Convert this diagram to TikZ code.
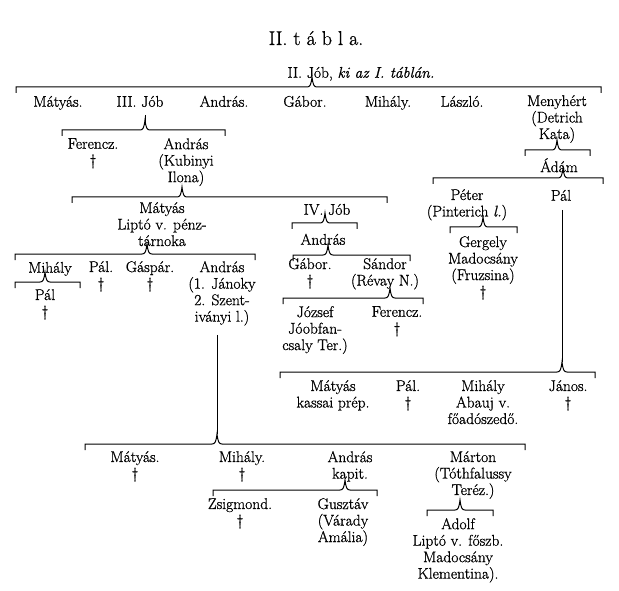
\documentclass[tikz,border=0pt]{standalone}
\usepackage{fontspec}
\setmainfont{Latin Modern Roman}[FakeBold=0.9]
\usetikzlibrary{calc}

% family bracket: name of tip, tip x, y, left end, right end
\newcommand{\famline}[5]{%
	\coordinate (#1) at (#2,#3-3);
	\draw[brk] (#4,#3+6) -- (#4,#3) -- (#2-5,#3) .. controls (#2-2,#3) and (#2-1,#3-2) .. (#1)
		.. controls (#2+1,#3-2) and (#2+2,#3) .. (#2+5,#3) -- (#5,#3) -- (#5,#3+6);}

\begin{document}
\begin{tikzpicture}[
	x=1pt, y=-1pt,
	every node/.style={font=\fontsize{15.5}{16.5}\selectfont, align=center, inner sep=0pt,
		anchor=north, yshift=7pt, execute at begin node=\strut},
	title_node/.style={font=\fontsize{20}{24}\selectfont},
	brk/.style={line width=1pt}
	]
	\fill[white] (0,0) rectangle (619,591);
	\useasboundingbox (0,0) rectangle (619,591);
	
	% --- TITLE ---
	\node[title_node] (title) at (316,35) {II. t á b l a.};
	\node (job2) at (361,73) {II. Jób, \textit{ki az I. táblán.}};
	\famline{b0}{312}{87}{16}{601}
	
	% --- II. JÓB GYERMEKEI ---
	\node (matyas1) at (58,102) {Mátyás.};
	\node (job3) at (140,102) {III. Jób};
	\node (andras1) at (224,102) {András.};
	\node (gabor1) at (305,102) {Gábor.};
	\node (mihaly1) at (388,102) {Mihály.};
	\node (laszlo1) at (462,102) {László.};
	\node (menyhert) at (557,102) {Menyhért\\(Detrich\\Kata)};
	
	% --- III. JÓB ÁGA ---
	\famline{b1}{145}{130}{62}{225}
	\draw[brk] ([yshift=-3pt]b1 |- job3.south) -- ++(0,8);
	\node (ferencz2) at (93,145) {Ferencz.\\\dag};
	\node (andras2) at (186,145) {András\\(Kubinyi\\Ilona)};
	
	\famline{b2}{182}{197}{72}{387}
	\node (matyas3) at (162,209) {Mátyás\\Liptó v. pénz-\\tárnoka};
	\node (job4) at (327,210) {IV. Jób};
	
	\famline{b3}{325}{223}{292}{357}
	\node (andras4) at (323,240) {András};
	\famline{b4}{328}{255}{293}{410}
	\node (gabor5) at (310,265) {Gábor.\\\dag};
	\node (sandor5) at (385,265) {Sándor\\(Révay N.)};
	\famline{b5}{390}{298}{283}{423}
	\node (jozsef6) at (315,313) {József\\Jóobfan-\\csaly Ter.)};
	\node (ferencz6) at (397,313) {Ferencz.\\\dag};
	
	\famline{b6}{147}{254}{15}{255}
	\node (mihaly4) at (50,268) {Mihály};
	\node (pal4) at (101,268) {Pál.\\\dag};
	\node (gaspar4) at (150,268) {Gáspár.\\\dag};
	\node (andras5) at (222,268) {András\\(1. Jánoky\\2. Szent-\\iványi l.)};
	\famline{b7}{45}{282}{15}{80}
	\node (pal5) at (45,296) {Pál\\\dag};
	
	\famline{b12}{217}{444}{85}{525}
	\draw[brk] ([yshift=-8pt]b12 |- andras5.south) -- (b12);
	\node (matyas8) at (135,458) {Mátyás.\\\dag};
	\node (mihaly8) at (242,458) {Mihály.\\\dag};
	\node (andras8) at (350,458) {András\\kapit.};
	\node (marton8) at (473,458) {Márton\\(Tóthfalussy\\Teréz.)};
	\famline{b13}{345}{490}{213}{377}
	\node (zsigmond) at (240,505) {Zsigmond.\\\dag};
	\node (gusztav) at (343,505) {Gusztáv\\(Várady\\Amália)};
	\famline{b14}{460}{510}{427}{493}
	\node (adolf) at (458,525) {Adolf\\Liptó v. főszb.\\Madocsány\\Klementina).};
	
	% --- MENYHÉRT ÁGA ---
	\famline{b8}{557}{150}{525}{590}
	\node (adam) at (559,165) {Ádám};
	\famline{b9}{563}{178}{433}{603}
	\node (peter) at (467,196) {Péter\\(Pinterich \textit{l.})};
	\node (pal6) at (561,196) {Pál};
	\famline{b10}{483}{227}{450}{517}
	\node (gergely) at (483,243) {Gergely\\Madocsány\\(Fruzsina)\\\dag};
	
	\famline{b11}{562}{372}{280}{595}
	\draw[brk] ([yshift=-4pt]b11 |- pal6.south) -- (b11);
	\node (matyas7) at (333,387) {Mátyás\\kassai prép.};
	\node (pal7) at (408,387) {Pál.\\\dag};
	\node (mihaly7) at (483,387) {Mihály\\Abauj v.\\főadószedő.};
	\node (janos7) at (568,387) {János.\\\dag};
	
\end{tikzpicture}
\end{document}
